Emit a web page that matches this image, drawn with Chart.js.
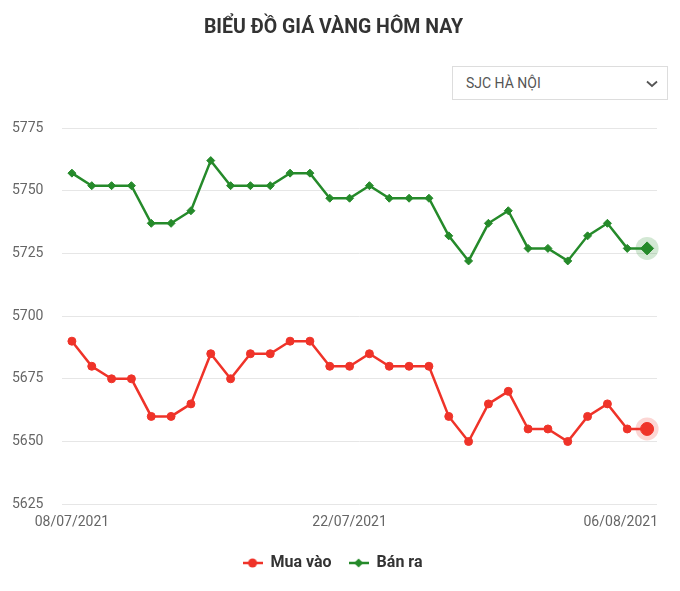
<!DOCTYPE html>
<html lang="vi">
<head>
<meta charset="utf-8">
<title>Biểu đồ giá vàng hôm nay</title>
<script src="https://cdn.jsdelivr.net/npm/chart.js@4.4.0/dist/chart.umd.min.js"></script>
<style>
    html, body { margin: 0; padding: 0; background: #fff; }
    .gold-box { position: relative; width: 680px; height: 591px; font-family: Roboto, Arial, sans-serif; }
    #goldChart { position: absolute; left: 0; top: 0; }
    .gold-box h3 {
        position: absolute; left: 0; top: 16px; width: 667px; margin: 0;
        text-align: center; font-size: 19.5px; line-height: 22px; font-weight: 700; color: #333;
    }
    .picker {
        position: absolute; left: 452px; top: 66px; width: 216px; height: 34px;
        box-sizing: border-box; border: 1px solid #ddd; background: #fff;
        font-size: 14px; line-height: 32px; color: #555; padding-left: 13px;
    }
    .picker svg { position: absolute; right: 9px; top: 13px; }
</style>
</head>
<body>
<div class="gold-box">
    <canvas id="goldChart" width="680" height="591"></canvas>
    <h3>BIỂU ĐỒ GIÁ VÀNG HÔM NAY</h3>
    <div class="picker">SJC HÀ NỘI
        <svg width="12" height="8" viewBox="0 0 12 8"><polyline points="1,1.5 6,6 11,1.5" fill="none" stroke="#555" stroke-width="1.8"/></svg>
    </div>
</div>

<script>
// ========================================
// DATA
// ========================================
const dates = [
    '08/07/2021', '09/07/2021', '10/07/2021', '11/07/2021', '12/07/2021',
    '13/07/2021', '14/07/2021', '15/07/2021', '16/07/2021', '17/07/2021',
    '18/07/2021', '19/07/2021', '20/07/2021', '21/07/2021', '22/07/2021',
    '23/07/2021', '24/07/2021', '25/07/2021', '26/07/2021', '27/07/2021',
    '28/07/2021', '29/07/2021', '30/07/2021', '31/07/2021', '01/08/2021',
    '02/08/2021', '03/08/2021', '04/08/2021', '05/08/2021', '06/08/2021'
];
const tickDates = ['08/07/2021', '22/07/2021', '06/08/2021'];

// Mua vào (buy)
const buyPrices = [
    5690, 5680, 5675, 5675, 5660, 5660, 5665, 5685, 5675, 5685,
    5685, 5690, 5690, 5680, 5680, 5685, 5680, 5680, 5680, 5660,
    5650, 5665, 5670, 5655, 5655, 5650, 5660, 5665, 5655, 5655
];
// Bán ra (sell)
const sellPrices = [
    5757, 5752, 5752, 5752, 5737, 5737, 5742, 5762, 5752, 5752,
    5752, 5757, 5757, 5747, 5747, 5752, 5747, 5747, 5747, 5732,
    5722, 5737, 5742, 5727, 5727, 5722, 5732, 5737, 5727, 5727
];
const priceTicks = [5625, 5650, 5675, 5700, 5725, 5750, 5775];

const RED = '#ef3329';
const GREEN = '#258a2a';
const lastIdx = dates.length - 1;

// ========================================
// HELPERS
// ========================================
function legendMarker(color, shape) {
    const c = document.createElement('canvas');
    c.width = 20;
    c.height = 12;
    const g = c.getContext('2d');
    g.strokeStyle = color;
    g.fillStyle = color;
    g.lineWidth = 2.5;
    g.beginPath();
    g.moveTo(0, 6);
    g.lineTo(20, 6);
    g.stroke();
    g.beginPath();
    if (shape === 'circle') {
        g.arc(10, 6, 4.5, 0, Math.PI * 2);
    } else {
        g.moveTo(10, 1.5); g.lineTo(14.5, 6); g.lineTo(10, 10.5); g.lineTo(5.5, 6);
        g.closePath();
    }
    g.fill();
    return c;
}

function pointSize(ctx) {
    return ctx.dataIndex === lastIdx ? 6.5 : 4;
}

// halo behind the latest point of each line
const lastPointHalo = {
    id: 'lastPointHalo',
    beforeDatasetsDraw(chart) {
        const ctx = chart.ctx;
        chart.data.datasets.forEach((ds, i) => {
            const pt = chart.getDatasetMeta(i).data[lastIdx];
            if (!pt) return;
            ctx.save();
            ctx.beginPath();
            ctx.arc(pt.x, pt.y, 11.5, 0, Math.PI * 2);
            ctx.fillStyle = ds.haloColor;
            ctx.fill();
            ctx.restore();
        });
    }
};

// last date label sits flush with the right edge of the plot
const lastDateLabel = {
    id: 'lastDateLabel',
    afterDraw(chart) {
        const scale = chart.scales.x;
        const item = scale.getLabelItems()[0];
        const text = tickDates[tickDates.length - 1];
        if (!item || dates[lastIdx] !== text) return;
        const ctx = chart.ctx;
        ctx.save();
        ctx.font = item.font.string;
        ctx.fillStyle = '#666';
        ctx.textAlign = 'right';
        ctx.textBaseline = item.options.textBaseline;
        ctx.fillText(text, chart.chartArea.right + 1, item.options.translation[1] + item.textOffset);
        ctx.restore();
    }
};

// move the legend a bit up / left like the original widget
const legendNudge = {
    id: 'legendNudge',
    afterLayout(chart) {
        const lg = chart.legend;
        lg.left -= 2; lg.right -= 2;
        lg.top -= 3; lg.bottom -= 3;
    }
};

// ========================================
// CHART
// ========================================
const markers = [legendMarker(RED, 'circle'), legendMarker(GREEN, 'diamond')];

new Chart(document.getElementById('goldChart'), {
    type: 'line',
    data: {
        labels: dates,
        datasets: [{
            label: 'Mua vào',
            data: buyPrices,
            borderColor: RED,
            backgroundColor: RED,
            borderWidth: 2.5,
            tension: 0,
            pointStyle: 'circle',
            pointRadius: pointSize,
            pointBorderWidth: 1,
            pointBorderColor: RED,
            pointBackgroundColor: RED,
            haloColor: 'rgba(239, 51, 41, 0.2)'
        }, {
            label: 'Bán ra',
            data: sellPrices,
            borderColor: GREEN,
            backgroundColor: GREEN,
            borderWidth: 2.5,
            tension: 0,
            pointStyle: 'rectRot',
            pointRadius: pointSize,
            pointBorderWidth: 1,
            pointBorderColor: GREEN,
            pointBackgroundColor: GREEN,
            haloColor: 'rgba(37, 138, 42, 0.2)'
        }]
    },
    options: {
        responsive: false,
        animation: false,
        devicePixelRatio: 1,
        layout: {
            padding: { top: 128, left: 12, right: 23, bottom: 7 }
        },
        plugins: {
            title: { display: false },
            tooltip: { enabled: false },
            legend: {
                position: 'bottom',
                labels: {
                    usePointStyle: true,
                    pointStyleWidth: 20,
                    padding: 17,
                    color: '#333',
                    font: { family: 'Roboto', size: 16, weight: 'bold' },
                    generateLabels(chart) {
                        const items = Chart.defaults.plugins.legend.labels.generateLabels(chart);
                        items.forEach((it, i) => { it.pointStyle = markers[i]; });
                        return items;
                    }
                }
            }
        },
        scales: {
            x: {
                offset: true,
                grid: { display: false, drawTicks: false },
                border: { display: false },
                ticks: {
                    autoSkip: false,
                    maxRotation: 0,
                    padding: 10,
                    color: '#666',
                    font: { family: 'Roboto', size: 14 },
                    callback: function (value, index) {
                        const label = this.getLabelForValue(value);
                        return tickDates.includes(label) && index < lastIdx ? label : '';
                    }
                }
            },
            y: {
                min: priceTicks[0],
                max: priceTicks[priceTicks.length - 1],
                afterBuildTicks: scale => {
                    scale.ticks = priceTicks.map(v => ({ value: v }));
                },
                afterFit: scale => {
                    scale.width = 50;
                },
                grid: { color: '#e6e6e6', drawTicks: false },
                border: { display: false },
                ticks: {
                    crossAlign: 'far',
                    padding: 10,
                    color: '#666',
                    font: { family: 'Roboto', size: 14 },
                    callback: value => String(value)
                }
            }
        }
    },
    plugins: [lastPointHalo, lastDateLabel, legendNudge]
});
</script>
</body>
</html>
